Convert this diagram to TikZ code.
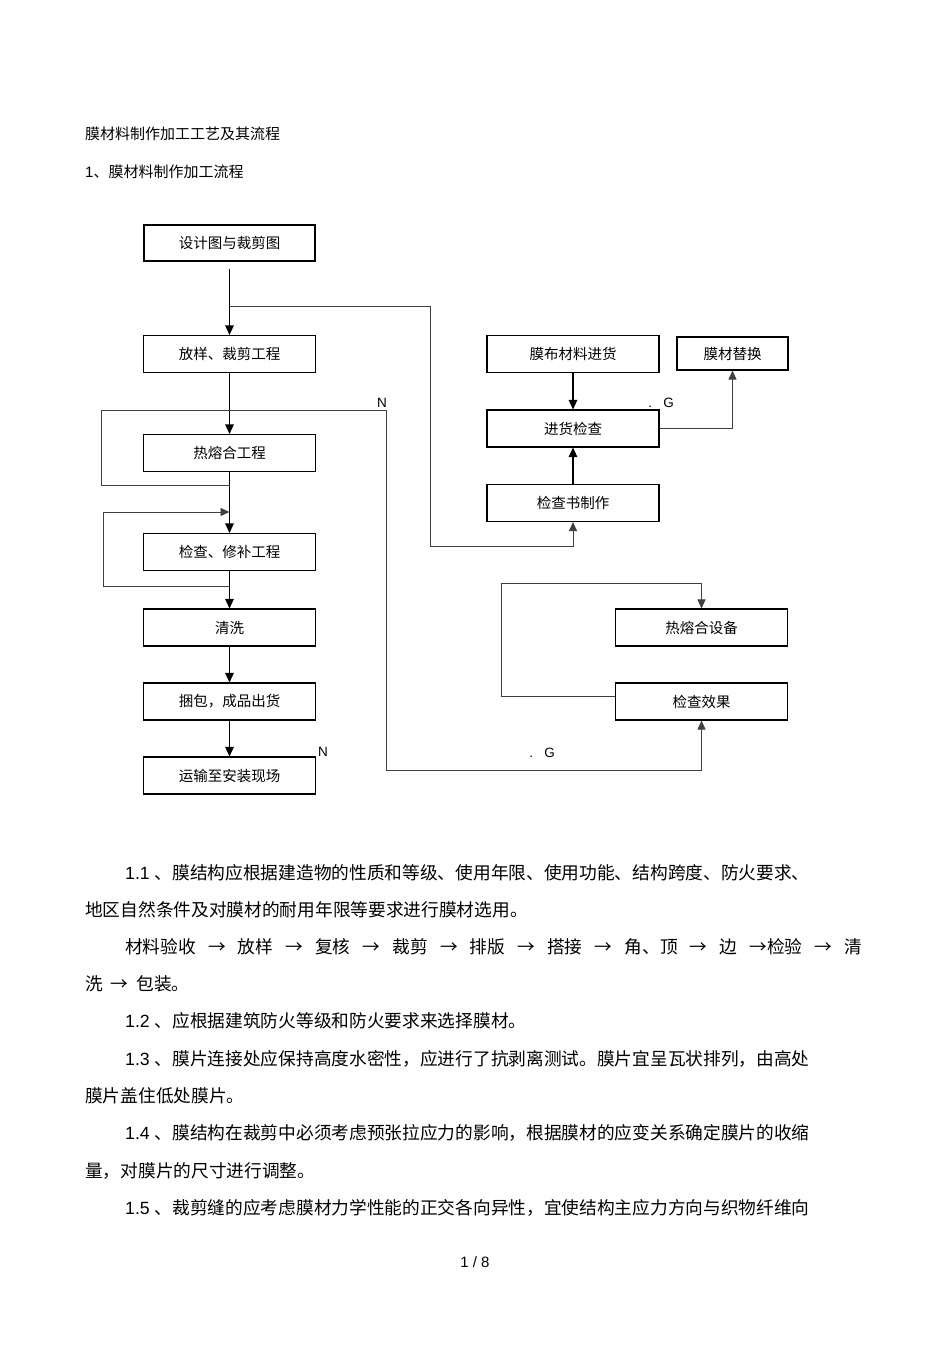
\documentclass[tikz,border=0pt]{standalone}
\usepackage{fontspec}
\setmainfont{Liberation Sans}
\newfontfamily\cjk{Noto Sans CJK SC}
\usetikzlibrary{arrows.meta}

\begin{document}
\begin{tikzpicture}[x=1pt,y=-1pt,
    stepbox/.style={draw,line width=1.1pt,minimum width=172pt,minimum height=37pt,inner sep=0pt,font=\cjk\fontsize{14.5}{16}\selectfont},
    flow/.style={line width=1.3pt,-{Triangle[length=9.5pt,width=8.5pt]}},
    back/.style={line width=0.9pt,draw=black!75},
    headed/.style={-{Triangle[length=9pt,width=8pt]}},
    flag/.style={inner sep=0pt,font=\fontsize{13.5}{15}\selectfont},
    para/.style={anchor=base west,inner sep=0pt,font=\fontsize{17.7}{20}\selectfont},
    head/.style={anchor=base west,inner sep=0pt,font=\fontsize{15}{17}\selectfont}]
        \useasboundingbox (0,0) rectangle (950,1345);
        \node[head] (title) at (85,139.7) {{\cjk 膜材料制作加工工艺及其流程}};
        \node[head] (sub) at (85,177.7) {1{\cjk 、膜材料制作加工流程}};
        % main column
        \node[stepbox,minimum width=171pt,minimum height=36pt] (design) at (229.5,243) {设计图与裁剪图};
        \node[stepbox] (cut) at (229.5,354) {放样、裁剪工程};
        \node[stepbox] (fuse) at (229.5,453) {热熔合工程};
        \node[stepbox] (repair) at (229.5,552) {检查、修补工程};
        \node[stepbox] (wash) at (229.5,627.5) {清洗};
        \node[stepbox] (pack) at (229.5,701.5) {捆包，成品出货};
        \node[stepbox] (ship) at (229.5,775.5) {运输至安装现场};
        % right side
        \node[stepbox] (supply) at (573,354) {膜布材料进货};
        \node[stepbox,minimum width=111pt,minimum height=33pt] (swap) at (732.5,353.5) {膜材替换};
        \node[stepbox] (check) at (573,428.5) {进货检查};
        \node[stepbox] (sheet) at (573,503) {检查书制作};
        \node[stepbox] (equip) at (701.5,627.5) {热熔合设备};
        \node[stepbox] (result) at (701.5,701.5) {检查效果};
        \coordinate (split) at (229.5,306);
        \coordinate (fuseout) at (229.5,485);
        \coordinate (fixout) at (229.5,586);
        \coordinate (fixin) at (229.5,512);
        \draw[flow,shorten <=7pt] (design.south) -- (cut.north);
        \draw[back,headed] (split) -| (430,546) -| (sheet.south);
        \draw[flow] (cut.south) -- (fuse.north);
        \draw[flow] (fuse.south) -- (repair.north);
        \draw[back,headed] (fuseout) -| (101,410) -| (386,770) -| (result.south);
        \draw[back,headed] (fixout) -| (103,512) -- (fixin);
        \draw[flow] (repair.south) -- (wash.north);
        \draw[flow] (wash.south) -- (pack.north);
        \draw[flow] (pack.south) -- (ship.north);
        \draw[flow] (supply.south) -- (check.north);
        \draw[flow] (sheet.north) -- (check.south);
        \draw[back,headed] (check.east) -| (swap.south);
        \draw[back,headed] ([yshift=5.5pt]result.west) -| (501,583) -| (equip.north);
        \node[flag] (n1) at (382,403) {N};
        \node[flag] (g1) at (661,403) {.\ \ \ G};
        \node[flag] (n2) at (323,752) {N};
        \node[flag] (g2) at (542,753) {.\ \ \ G};
        % text below
        \node[para] (p11a) at (125,879) {1.1 {\cjk 、膜结构应根据建造物的性质和等级、使用年限、使用功能、结构跨度、防火要求、}};
        \node[para] (p11b) at (85,916.5) {{\cjk 地区自然条件及对膜材的耐用年限等要求进行膜材选用。}};
        \node[para] (seq) at (125,953.5) {\hbox to 737pt{\cjk 材料验收\hfill{}→\hfill{}放样\hfill{}→\hfill{}复核\hfill{}→\hfill{}裁剪\hfill{}→\hfill{}排版\hfill{}→\hfill{}搭接\hfill{}→\hfill{}角、顶\hfill{}→\hfill{}边\hfill{}→检验\hfill{}→\hfill{}清}};
        \node[para] (seqb) at (85,990.5) {{\cjk 洗\ \ →\ \ 包装。}};
        \node[para] (p12) at (125,1027.5) {1.2 {\cjk 、应根据建筑防火等级和防火要求来选择膜材。}};
        \node[para] (p13a) at (125,1065.5) {1.3 {\cjk 、膜片连接处应保持高度水密性，应进行了抗剥离测试。膜片宜呈瓦状排列，由高处}};
        \node[para] (p13b) at (85,1102.5) {{\cjk 膜片盖住低处膜片。}};
        \node[para] (p14a) at (125,1139.5) {1.4 {\cjk 、膜结构在裁剪中必须考虑预张拉应力的影响，根据膜材的应变关系确定膜片的收缩}};
        \node[para] (p14b) at (85,1177.5) {{\cjk 量，对膜片的尺寸进行调整。}};
        \node[para] (p15) at (125,1214.5) {1.5 {\cjk 、裁剪缝的应考虑膜材力学性能的正交各向异性，宜使结构主应力方向与织物纤维向}};
        \node[flag,font=\fontsize{15}{17}\selectfont] (page) at (475,1262) {1 / 8};
\end{tikzpicture}
\end{document}
